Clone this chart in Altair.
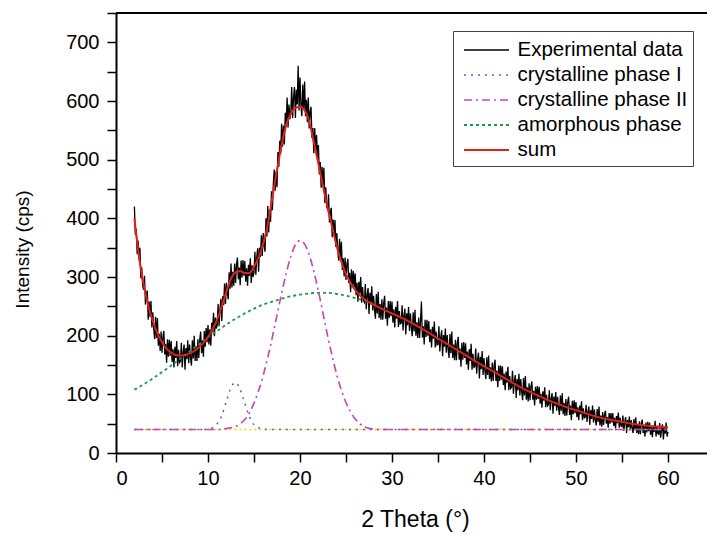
import altair as alt
import pandas as pd

# ---------------- data ----------------
# Experimental data: 2 Theta from 2.0 to 60.0, step 0.1
exp_start = 2.0
exp_step = 0.1
exp_intensity = [
    420, 372, 382, 339, 362, 330, 350, 298, 316, 285,   # 2
    278, 302, 253, 271, 277, 227, 258, 232, 259, 214,   # 3
    240, 212, 194, 232, 196, 230, 183, 203, 174, 207,   # 4
    171, 198, 208, 168, 186, 154, 194, 164, 193, 166,   # 5
    191, 155, 177, 146, 181, 162, 191, 148, 176, 154,   # 6
    156, 188, 146, 171, 185, 142, 179, 160, 192, 153,   # 7
    185, 162, 149, 192, 161, 200, 157, 182, 157, 194,   # 8
    162, 193, 207, 170, 192, 164, 208, 181, 213, 189,   # 9
    218, 185, 211, 183, 222, 206, 239, 199, 231, 212,   # 10
    218, 254, 216, 245, 263, 225, 267, 252, 289, 254,   # 11
    290, 272, 262, 308, 280, 323, 282, 309, 285, 323,   # 12
    290, 321, 333, 296, 316, 286, 328, 299, 329, 302,   # 13
    327, 292, 315, 285, 321, 302, 332, 290, 320, 300,   # 14
    308, 343, 304, 333, 349, 309, 350, 334, 371, 336,   # 15
    375, 353, 343, 400, 369, 421, 376, 415, 394, 446,   # 16
    414, 459, 483, 447, 480, 453, 513, 488, 532, 510,   # 17
    561, 522, 558, 526, 580, 561, 606, 555, 594, 569,   # 18
    580, 624, 571, 606, 624, 571, 619, 594, 660, 584,   # 19
    640, 594, 574, 628, 585, 633, 574, 602, 564, 606,   # 20
    553, 582, 590, 537, 554, 511, 554, 513, 542, 503,   # 21
    525, 475, 496, 452, 488, 457, 486, 426, 453, 419,   # 22
    416, 441, 393, 411, 418, 368, 398, 372, 397, 351,   # 23
    375, 347, 328, 365, 327, 360, 312, 332, 301, 333,   # 24
    295, 322, 331, 290, 307, 274, 313, 282, 310, 282,   # 25
    306, 269, 290, 258, 292, 272, 300, 256, 283, 260,   # 26
    257, 288, 245, 269, 281, 237, 273, 253, 284, 243,   # 27
    268, 244, 229, 271, 238, 275, 230, 254, 227, 262,   # 28
    227, 256, 268, 229, 248, 217, 259, 230, 259, 233,   # 29
    258, 222, 245, 214, 249, 229, 259, 215, 242, 220,   # 30
    221, 252, 209, 234, 246, 202, 238, 218, 249, 208,   # 31
    238, 214, 199, 240, 207, 244, 200, 223, 196, 231,   # 32
    196, 225, 258, 197, 216, 185, 227, 198, 227, 200,   # 33
    225, 189, 211, 180, 215, 195, 224, 180, 207, 184,   # 34
    185, 216, 173, 197, 209, 165, 201, 181, 212, 171,   # 35
    201, 177, 162, 203, 170, 207, 162, 185, 158, 193,   # 36
    158, 187, 198, 159, 178, 147, 188, 159, 189, 162,   # 37
    187, 151, 173, 142, 177, 157, 186, 142, 169, 146,   # 38
    147, 178, 135, 159, 171, 127, 164, 143, 174, 133,   # 39
    162, 140, 126, 163, 133, 166, 126, 146, 122, 154,   # 40
    123, 149, 159, 123, 140, 112, 149, 123, 149, 125,   # 41
    148, 116, 135, 107, 139, 120, 147, 107, 131, 110,   # 42
    112, 140, 101, 122, 133, 94, 126, 107, 135, 98,     # 43
    126, 104, 90, 128, 98, 131, 91, 112, 88, 119,       # 44
    90, 113, 122, 91, 106, 81, 113, 91, 114, 92,        # 45
    113, 84, 101, 77, 105, 89, 112, 78, 99, 80,         # 46
    82, 107, 73, 92, 102, 67, 96, 80, 104, 72,          # 47
    96, 77, 65, 98, 72, 102, 66, 85, 63, 92,            # 48
    64, 87, 96, 65, 81, 56, 89, 66, 90, 68,             # 49
    87, 61, 78, 56, 81, 66, 88, 56, 76, 60,             # 50
    61, 82, 53, 70, 79, 48, 73, 58, 81, 52,             # 51
    74, 56, 47, 75, 53, 79, 47, 64, 45, 70,             # 52
    48, 65, 72, 50, 61, 43, 68, 50, 68, 52,             # 53
    68, 46, 60, 42, 63, 51, 69, 43, 60, 46,             # 54
    45, 64, 38, 53, 61, 34, 56, 44, 62, 39,             # 55
    56, 42, 34, 58, 39, 61, 34, 49, 32, 54,             # 56
    32, 50, 57, 34, 46, 28, 52, 35, 53, 37,             # 57
    52, 31, 45, 27, 47, 36, 55, 28, 46, 33,             # 58
    32, 51, 26, 41, 49, 23, 45, 33, 52, 28,             # 59
    36,                                                 # 60
]
exp_theta = [round(exp_start + exp_step * i, 2) for i in range(len(exp_intensity))]

# crystalline phase I
c1_theta = [2, 9.5, 10, 10.5, 11, 11.5, 12, 12.5, 13, 13.5, 14, 14.5, 15, 15.5, 16, 16.5, 60]
c1_intensity = [40, 40, 41, 43, 50, 64, 88, 112, 120, 108, 85, 62, 48, 43, 41, 40, 40]

# crystalline phase II
c2_theta = [2, 11.5, 12, 12.5, 13, 13.5, 14, 14.5, 15, 15.5, 16, 16.5, 17, 17.5, 18, 18.5,
            19, 19.5, 20, 20.5, 21, 21.5, 22, 22.5, 23, 23.5, 24, 24.5, 25, 25.5, 26, 26.5,
            27, 27.5, 28, 28.5, 60]
c2_intensity = [40, 40, 42, 43, 45, 50, 57, 68, 85, 106, 132, 163, 198, 235, 272, 306,
                335, 355, 362, 356, 338, 310, 276, 238, 200, 165, 133, 107, 86, 70, 58, 50,
                45, 42, 41, 40, 40]

# amorphous phase
am_theta = [2, 3, 4, 5, 6, 7, 8, 9, 10, 11, 12, 13, 14, 15, 16, 17, 18, 19, 20, 21, 22,
            23, 24, 25, 26, 27, 28]
am_intensity = [108, 117, 127, 138, 149, 161, 173, 185, 197, 208, 219, 229, 238, 246, 253,
                258, 263, 267, 270, 272, 273, 273, 271, 268, 264, 260, 254]

# sum (fit)
sum_theta = [2, 2.5, 3, 3.5, 4, 4.5, 5, 5.5, 6, 6.5, 7, 7.5, 8, 8.5, 9, 9.5, 10, 10.5, 11,
             11.5, 12, 12.5, 13, 13.5, 14, 14.5, 15, 15.5, 16, 16.5, 17, 17.5, 18, 18.5, 19,
             19.5, 20, 20.5, 21, 21.5, 22, 22.5, 23, 23.5, 24, 24.5, 25, 25.5, 26, 26.5, 27,
             27.5, 28, 29, 30, 31, 32, 33, 34, 35, 36, 37, 38, 39, 40, 41, 42, 43, 44, 45,
             46, 47, 48, 49, 50, 51, 52, 53, 54, 55, 56, 57, 58, 59, 60]
sum_intensity = [400, 335, 288, 252, 225, 204, 189, 178, 171, 167, 166, 167, 170, 174, 180,
                 188, 198, 211, 228, 250, 275, 297, 308, 310, 307, 307, 318, 334, 357, 390,
                 436, 482, 525, 558, 578, 588, 590, 584, 565, 530, 493, 455, 418, 385, 352,
                 326, 305, 290, 278, 269, 262, 257, 253, 245, 238, 231, 223, 214, 205, 195,
                 186, 176, 167, 157, 148, 139, 130, 121, 112, 104, 97, 90, 84, 78, 73, 68,
                 63, 59, 56, 53, 50, 48, 46, 45, 44]

# baseline (yellow dotted, not in legend)
base_theta = [2, 60]
base_intensity = [40, 40]

series_names = ["Experimental data", "crystalline phase I", "crystalline phase II",
                "amorphous phase", "sum"]
series_colors = ["#000000", "#5a5ad2", "#c846b4", "#1f9a45", "#e4201c"]
series_dashes = [[1, 0], [2, 5], [8, 4, 2, 4], [3, 3], [1, 0]]
series_widths = [1.3, 2, 2, 2, 2]

# ---------------- build table ----------------
frames = []
for name, xs, ys in [
    (series_names[0], exp_theta, exp_intensity),
    (series_names[1], c1_theta, c1_intensity),
    (series_names[2], c2_theta, c2_intensity),
    (series_names[3], am_theta, am_intensity),
    (series_names[4], sum_theta, sum_intensity),
]:
    frames.append(pd.DataFrame({"theta": xs, "intensity": ys, "series": name}))
data = pd.concat(frames, ignore_index=True)
base_df = pd.DataFrame({"theta": base_theta, "intensity": base_intensity})

FONT = "Liberation Sans"
W, H = 591, 440

x_enc = alt.X(
    "theta:Q",
    scale=alt.Scale(domain=[0, 64.24], nice=False, zero=False),
    axis=alt.Axis(
        values=list(range(0, 65, 5)),
        labelExpr="datum.value % 10 === 0 ? datum.label : ''",
        title="2 Theta (°)",
        titleX=299, titleY=66, titleBaseline="middle", titleFontSize=23,
        labelPadding=6, tickSize=9,
    ),
)
y_enc = alt.Y(
    "intensity:Q",
    scale=alt.Scale(domain=[0, 750], nice=False),
    axis=alt.Axis(
        values=list(range(0, 751, 50)),
        labelExpr="datum.value % 100 === 0 ? datum.label : ''",
        title="Intensity (cps)",
        titleX=-94, titleY=236, titleBaseline="middle", titleAngle=-90, titleFontSize=19,
        labelPadding=8, tickSize=9,
    ),
)

legend = alt.Legend(
    title=None, orient="none", legendX=337, legendY=18,
    symbolType="M-1.73,0L1.73,0", symbolSize=676, symbolOffset=14.5,
    labelFontSize=20.5, labelFont=FONT, labelColor="black", labelOffset=17,
    labelLimit=400, rowPadding=0, padding=5, strokeColor="#444444", fillColor="white",
)
color_enc = alt.Color("series:N", scale=alt.Scale(domain=series_names, range=series_colors),
                      legend=legend)
dash_enc = alt.StrokeDash("series:N", scale=alt.Scale(domain=series_names, range=series_dashes),
                          legend=legend)
width_enc = alt.StrokeWidth("series:N", scale=alt.Scale(domain=series_names, range=series_widths),
                            legend=legend)

def series_layer(name, interp):
    return (
        alt.Chart(data)
        .transform_filter(alt.datum.series == name)
        .mark_line(interpolate=interp)
        .encode(x=x_enc, y=y_enc, color=color_enc, strokeDash=dash_enc, strokeWidth=width_enc)
    )

base_layer = (
    alt.Chart(base_df)
    .mark_line(color="#e8e000", strokeDash=[2, 3], strokeWidth=1.5)
    .encode(x=x_enc, y=y_enc)
)

top_frame = (
    alt.Chart(pd.DataFrame({"k": [0]}))
    .mark_rule(color="black", strokeWidth=2)
    .encode(x=alt.value(0), x2=alt.value(W), y=alt.value(0))
)

chart = (
    alt.layer(
        series_layer(series_names[0], "linear"),
        base_layer,
        series_layer(series_names[3], "monotone"),
        series_layer(series_names[1], "monotone"),
        series_layer(series_names[2], "monotone"),
        series_layer(series_names[4], "monotone"),
        top_frame,
    )
    .properties(
        width=W, height=H,
        autosize=alt.AutoSizeParams(type="none"),
        padding={"left": 116, "top": 13, "right": 0, "bottom": 82},
        background="white",
    )
    .configure_view(stroke=None)
    .configure_axis(
        grid=False,
        domainColor="black", domainWidth=2,
        tickColor="black", tickWidth=1.5,
        labelFont=FONT, labelFontSize=20, labelColor="black",
        titleFont=FONT, titleFontSize=20, titleFontWeight="normal", titleColor="black",
    )
)

chart.save("out.html", embed_options={"renderer": "svg", "actions": False})
